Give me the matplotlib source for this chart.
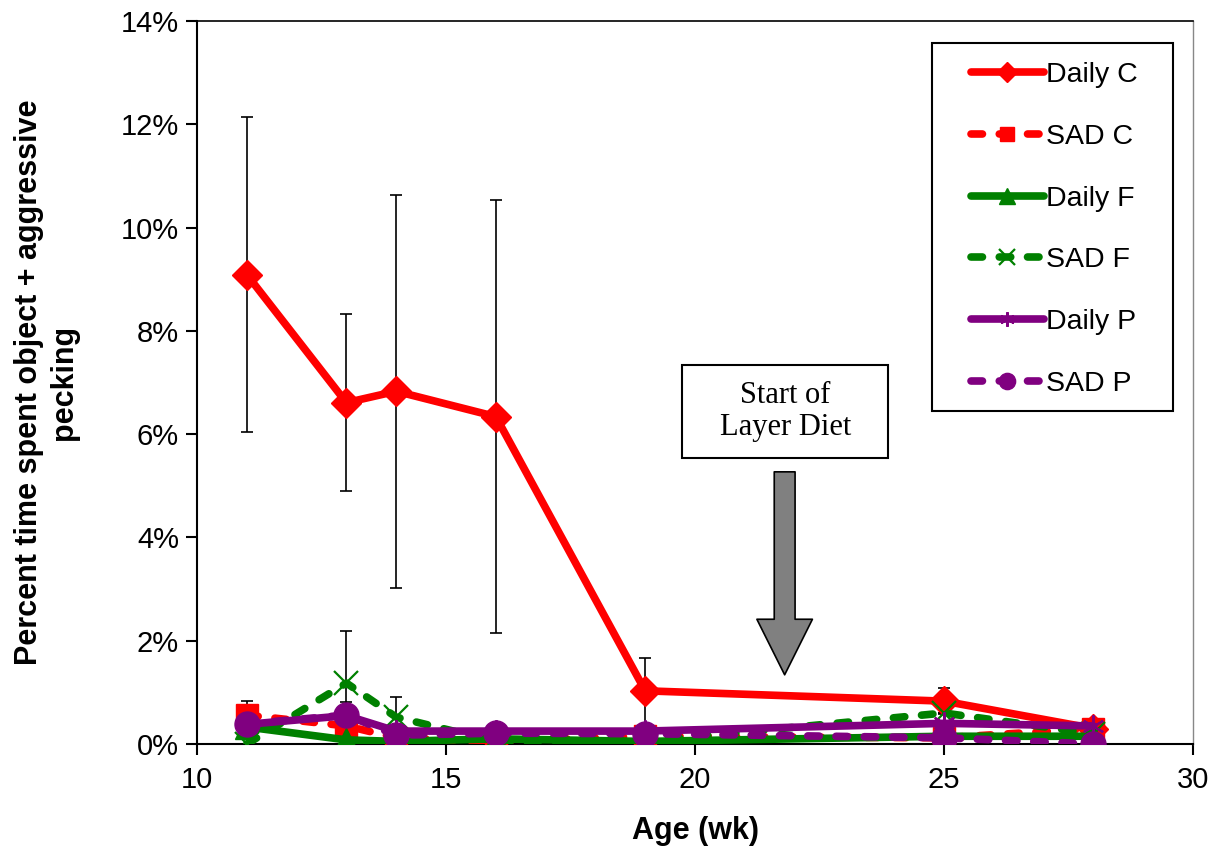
import matplotlib
matplotlib.use("Agg")
import matplotlib.pyplot as plt
from matplotlib.patches import Rectangle
from matplotlib.ticker import FuncFormatter, MultipleLocator

# Age in weeks
age = [11, 13, 14, 16, 19, 25, 28]

# Percent of time spent object + aggressive pecking
daily_c = [9.09, 6.61, 6.83, 6.34, 1.03, 0.83, 0.30]
daily_c_err = [3.05, 1.72, 3.80, 4.20, 0.64, 0.25, 0.0]
sad_c = [0.56, 0.35, 0.12, 0.05, 0.15, 0.12, 0.30]
sad_c_err = [0.27, 0.0, 0.0, 0.0, 0.0, 0.0, 0.0]
daily_f = [0.33, 0.08, 0.05, 0.10, 0.05, 0.15, 0.15]
sad_f = [0.00, 1.18, 0.52, 0.05, 0.05, 0.60, 0.20]
sad_f_err = [0.0, 1.01, 0.39, 0.0, 0.0, 0.0, 0.0]
daily_p = [0.38, 0.55, 0.25, 0.25, 0.25, 0.40, 0.35]
sad_p = [0.39, 0.56, 0.17, 0.21, 0.20, 0.12, 0.00]
sad_p_err = [0.0, 0.25, 0.0, 0.0, 0.0, 0.0, 0.0]

x_ticks = [10, 15, 20, 25, 30]

RED = "#FF0000"
GREEN = "#008000"
PURPLE = "#800080"

plt.rcParams["font.family"] = ["Liberation Sans", "DejaVu Sans"]

fig = plt.figure(figsize=(12.22, 8.5), dpi=100)
ax = fig.add_axes([0.1612, 0.1247, 0.8151, 0.8506])

LW = 5.5
dash = (0, (1.5, 2.2))
asterisk = (6, 2, 0)

series = [
    ("Daily C", daily_c, daily_c_err, RED, "-", "D", 15, 1.0),
    ("SAD C", sad_c, sad_c_err, RED, dash, "s", 16, 1.0),
    ("Daily F", daily_f, None, GREEN, "-", "^", 17, 1.0),
    ("SAD F", sad_f, sad_f_err, GREEN, dash, "x", 17, 1.6),
    ("Daily P", daily_p, None, PURPLE, "-", asterisk, 16, 1.6),
    ("SAD P", sad_p, sad_p_err, PURPLE, dash, "o", 18, 1.0),
]

for i, (label, vals, err, col, ls, mk, ms, mew) in enumerate(series):
    if err is not None:
        ax.errorbar(age, vals, yerr=err, fmt="none", ecolor="black",
                    elinewidth=1.2, capsize=4.5, capthick=1.2, zorder=2 + i * 0.1)
    ax.plot(age, vals, color=col, linestyle=ls, linewidth=LW,
            dash_capstyle="round", solid_capstyle="round",
            marker=mk, markersize=ms, markeredgewidth=mew,
            markerfacecolor=col, markeredgecolor=col,
            label=label, zorder=3 + i * 0.1)

ax.set_xlim(10, 30)
ax.set_ylim(0, 14)
ax.set_xticks(x_ticks)
ax.yaxis.set_major_locator(MultipleLocator(2))
ax.yaxis.set_major_formatter(FuncFormatter(lambda v, p: f"{v:.0f}%"))

for s in ax.spines.values():
    s.set_linewidth(1.5)
    s.set_color("black")
ax.spines["right"].set_color("#888888")
ax.spines["right"].set_linewidth(1.0)
ax.spines["top"].set_linewidth(1.2)

ax.tick_params(axis="both", direction="out", length=8, width=1.5,
               labelsize=21, colors="black", pad=5)
ax.tick_params(axis="x", pad=8)
ax.tick_params(right=False, top=False)

ax.set_xlabel("Age (wk)", fontsize=22, fontweight="bold", labelpad=16)
ax.set_ylabel("Percent time spent object + aggressive\npecking",
              fontsize=22, fontweight="bold", labelpad=30, linespacing=1.2)

# Legend box, with the entries placed inside it
ax.add_patch(Rectangle((0.738, 0.4606), 0.242, 0.509, transform=ax.transAxes,
                       fc="white", ec="black", lw=1.5, zorder=7))
leg = ax.legend(loc="center left", bbox_to_anchor=(0.777, 0.7117),
                borderaxespad=0, borderpad=0, fontsize=20.5, frameon=False,
                handlelength=2.55, labelspacing=1.26, handletextpad=0.1,
                markerscale=0.65)
leg.set_zorder(8)

# Diet change annotation
ax.annotate("", xy=(21.8, 1.34), xytext=(21.8, 5.27),
            arrowprops=dict(arrowstyle="simple,head_length=2.0,head_width=2.0,tail_width=0.75",
                            fc="#808080", ec="black", lw=1.2,
                            shrinkA=0, shrinkB=0, mutation_scale=20),
            zorder=6)
ax.add_patch(Rectangle((19.74, 5.54), 4.14, 1.80, fc="white", ec="black",
                       lw=1.5, zorder=6))
ax.text(21.81, 6.44, "Start of\nLayer Diet", ha="center", va="center",
        fontsize=22, family=["Liberation Serif", "DejaVu Serif"], linespacing=1.1,
        zorder=6.5)

fig.savefig("out.png", dpi=100)
